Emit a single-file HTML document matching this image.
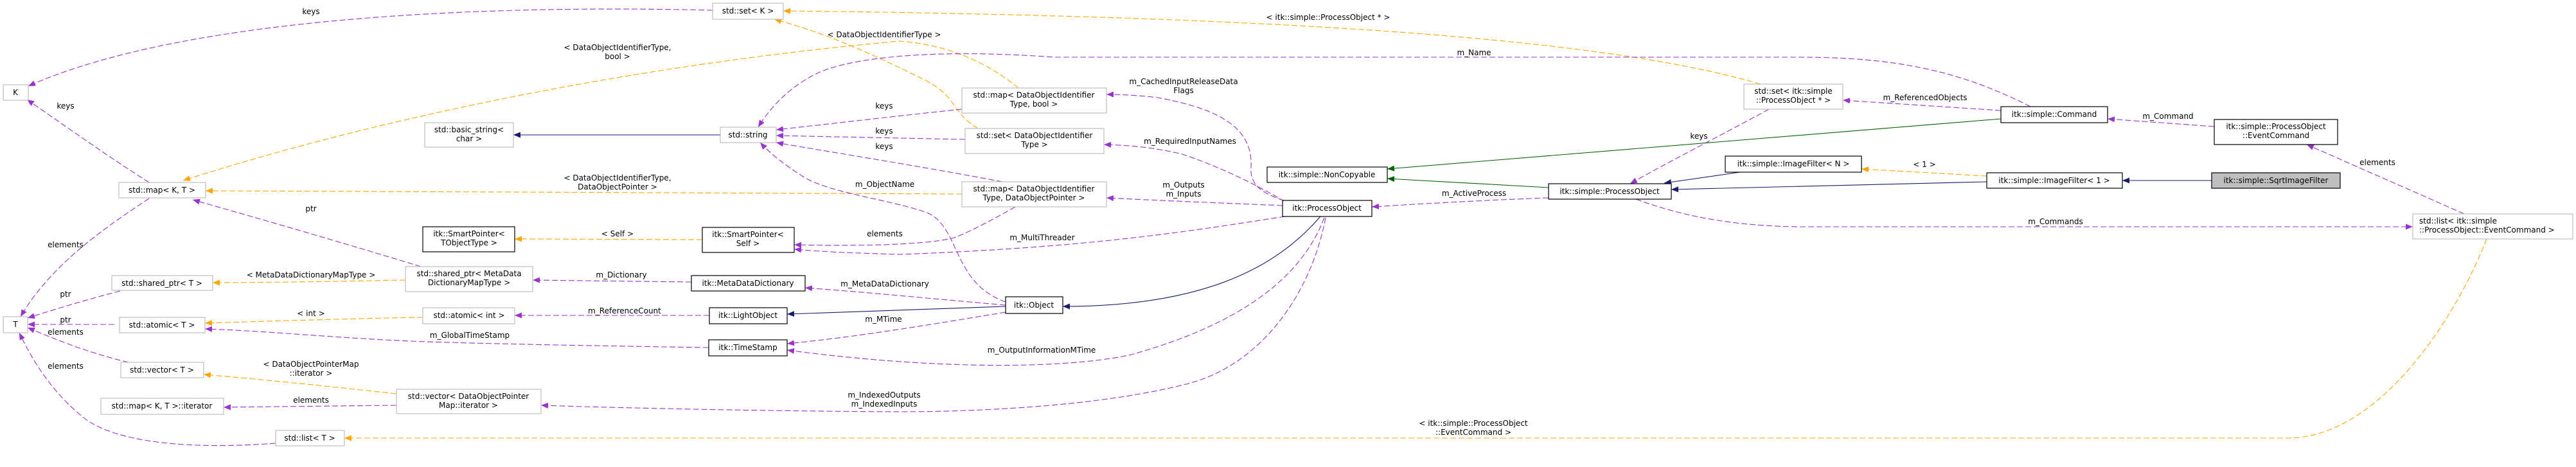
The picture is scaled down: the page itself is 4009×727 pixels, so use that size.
<!DOCTYPE html>
<html><head><meta charset="utf-8"><style>
html,body{margin:0;padding:0;background:#fff;}
svg{display:block;}
text{font-family:"DejaVu Sans","Liberation Sans",sans-serif;font-size:12px;fill:#000;}
.g{fill:#fff;stroke:#bfbfbf;stroke-width:1.2}
.b{fill:#fff;stroke:#000;stroke-width:1.2}
.p{fill:none;stroke:#9a32cd;stroke-dasharray:9,4;stroke-width:1.1}
.o{fill:none;stroke:#ffa500;stroke-dasharray:9,4;stroke-width:1.1}
.n{fill:none;stroke:#191970;stroke-width:1.1}
.gr{fill:none;stroke:#006400;stroke-width:1.1}
</style></head><body>
<svg width="4009" height="727" viewBox="0 0 4009 727" xmlns="http://www.w3.org/2000/svg">
<defs>
<marker id="mp" markerUnits="userSpaceOnUse" markerWidth="12" markerHeight="9" refX="11" refY="4.5" orient="auto"><path d="M0,0 L11,4.5 L0,9 z" fill="#9a32cd"/></marker>
<marker id="mo" markerUnits="userSpaceOnUse" markerWidth="12" markerHeight="9" refX="11" refY="4.5" orient="auto"><path d="M0,0 L11,4.5 L0,9 z" fill="#ffa500"/></marker>
<marker id="mn" markerUnits="userSpaceOnUse" markerWidth="12" markerHeight="9" refX="11" refY="4.5" orient="auto"><path d="M0,0 L11,4.5 L0,9 z" fill="#191970"/></marker>
<marker id="mg" markerUnits="userSpaceOnUse" markerWidth="12" markerHeight="9" refX="11" refY="4.5" orient="auto"><path d="M0,0 L11,4.5 L0,9 z" fill="#006400"/></marker>
</defs>

<!-- edges -->
<path class="p" marker-end="url(#mp)" d="M1109,16 C800,8 300,20 44,134"/>
<path class="p" marker-end="url(#mp)" d="M232,284 C170,245 100,195 42,155"/>
<path class="p" marker-end="url(#mp)" d="M232,309 C170,350 80,410 32,493"/>
<path class="p" marker-end="url(#mp)" d="M187,453 C140,465 90,480 43,495"/>
<path class="p" marker-end="url(#mp)" d="M178,505 L43,505"/>
<path class="p" marker-end="url(#mp)" d="M200,564 C140,550 90,530 43,510"/>
<path class="p" marker-end="url(#mp)" d="M429,690 C300,700 180,690 130,650 C80,610 50,560 30,518"/>
<path class="p" marker-end="url(#mp)" d="M655,415 C540,380 420,345 300,311"/>
<path class="o" marker-end="url(#mo)" d="M631,436 C520,438 420,440 331,440"/>
<path class="o" marker-end="url(#mo)" d="M658,494 C540,496 420,500 319,503"/>
<path class="p" marker-end="url(#mp)" d="M1103,541 C900,538 760,535 700,533 C560,530 420,515 319,512"/>
<path class="o" marker-end="url(#mo)" d="M617,613 C500,600 400,590 317,583"/>
<path class="p" marker-end="url(#mp)" d="M617,631 C520,632 430,633 348,634"/>
<path class="o" marker-end="url(#mo)" d="M3870,372 C3820,500 3700,682 3560,682 L536,682"/>
<path class="o" marker-end="url(#mo)" d="M2740,131 C2500,60 2000,25 1219,17"/>
<path class="o" marker-end="url(#mo)" d="M1522,200 C1480,175 1490,150 1440,125 C1350,80 1280,50 1205,30"/>
<path class="o" marker-end="url(#mo)" d="M1585,137 C1540,100 1480,70 1400,64 C1000,100 600,180 285,281"/>
<path class="o" marker-end="url(#mo)" d="M1497,302 C1000,300 600,298 320,297"/>
<path class="n" marker-end="url(#mn)" d="M1121,210 L799,210"/>
<path class="o" marker-end="url(#mo)" d="M1093,373 L801,372"/>
<path class="p" marker-end="url(#mp)" d="M1076,439 L829,436"/>
<path class="p" marker-end="url(#mp)" d="M1104,491 L801,491"/>
<path class="n" marker-end="url(#mn)" d="M1565,477 L1225,489"/>
<path class="p" marker-end="url(#mp)" d="M1565,475 C1450,465 1350,455 1253,448"/>
<path class="p" marker-end="url(#mp)" d="M1565,486 C1450,505 1330,525 1225,535"/>
<path class="p" marker-end="url(#mp)" d="M1565,470 C1480,440 1495,350 1440,330 C1380,310 1290,300 1250,275 C1220,256 1200,240 1183,222"/>
<path class="p" marker-end="url(#mp)" d="M1497,170 C1400,180 1300,192 1208,202"/>
<path class="p" marker-end="url(#mp)" d="M1502,217 C1400,215 1300,213 1208,211"/>
<path class="p" marker-end="url(#mp)" d="M1560,283 C1440,260 1300,238 1208,222"/>
<path class="p" marker-end="url(#mp)" d="M3160,166 C3050,110 2950,89 2800,89 L1640,89 C1450,75 1320,90 1270,115 C1230,135 1200,165 1180,198"/>
<path class="p" marker-end="url(#mp)" d="M1998,312 C1960,300 1945,285 1947,260 C1950,200 1900,170 1802,152 C1770,148 1740,147 1722,147"/>
<path class="p" marker-end="url(#mp)" d="M2000,314 C1960,290 1900,260 1840,240 C1790,228 1750,226 1718,225"/>
<path class="p" marker-end="url(#mp)" d="M1996,320 C1900,316 1800,312 1722,308"/>
<path class="p" marker-end="url(#mp)" d="M2000,337 C1850,360 1700,385 1400,396 C1330,394 1280,392 1236,388"/>
<path class="p" marker-end="url(#mp)" d="M1580,322 C1540,345 1500,365 1485,370 C1440,383 1300,383 1236,381"/>
<path class="n" marker-end="url(#mn)" d="M2055,337 C2000,400 1900,477 1654,477"/>
<path class="p" marker-end="url(#mp)" d="M2061,339 C2030,420 1950,500 1757,553 C1650,575 1450,575 1225,545"/>
<path class="p" marker-end="url(#mp)" d="M2063,339 C2040,460 1960,570 1846,598 C1700,635 1500,641 1400,641 C1200,640 1000,636 842,631"/>
<path class="p" marker-end="url(#mp)" d="M2410,308 C2300,312 2200,318 2135,322"/>
<path class="gr" marker-end="url(#mg)" d="M2410,292 L2159,278"/>
<path class="gr" marker-end="url(#mg)" d="M3114,185 L2159,263"/>
<path class="p" marker-end="url(#mp)" d="M2753,170 C2680,210 2600,250 2537,286"/>
<path class="n" marker-end="url(#mn)" d="M2708,268 L2590,285"/>
<path class="n" marker-end="url(#mn)" d="M3092,283 L2601,295"/>
<path class="o" marker-end="url(#mo)" d="M3092,274 L2897,263"/>
<path class="p" marker-end="url(#mp)" d="M3114,172 L2868,156"/>
<path class="p" marker-end="url(#mp)" d="M3446,197 L3280,185"/>
<path class="n" marker-end="url(#mn)" d="M3442,281 L3303,281"/>
<path class="p" marker-end="url(#mp)" d="M2546,310 C2600,330 2680,352 2800,353 L3755,353"/>
<path class="p" marker-end="url(#mp)" d="M3835,333 L3590,225"/>

<!-- edge labels -->
<g text-anchor="middle">
<text x="484" y="22">keys</text>
<text x="102" y="169">keys</text>
<text x="102" y="385">elements</text>
<text x="102" y="462">ptr</text>
<text x="102" y="502">ptr</text>
<text x="102" y="521">elements</text>
<text x="102" y="574">elements</text>
<text x="484" y="329">ptr</text>
<text x="484" y="432">&lt; MetaDataDictionaryMapType &gt;</text>
<text x="484" y="492">&lt; int &gt;</text>
<text x="731" y="526">m_GlobalTimeStamp</text>
<text x="484" y="571">&lt; DataObjectPointerMap</text>
<text x="484" y="585">::iterator &gt;</text>
<text x="484" y="627">elements</text>
<text x="2293" y="663">&lt; itk::simple::ProcessObject</text>
<text x="2293" y="677">::EventCommand &gt;</text>
<text x="2067" y="31">&lt; itk::simple::ProcessObject * &gt;</text>
<text x="1376" y="58">&lt; DataObjectIdentifierType &gt;</text>
<text x="961" y="78">&lt; DataObjectIdentifierType,</text>
<text x="961" y="92">bool &gt;</text>
<text x="961" y="281">&lt; DataObjectIdentifierType,</text>
<text x="961" y="295">DataObjectPointer &gt;</text>
<text x="961" y="368">&lt; Self &gt;</text>
<text x="967" y="432">m_Dictionary</text>
<text x="972" y="488">m_ReferenceCount</text>
<text x="1377" y="446">m_MetaDataDictionary</text>
<text x="1375" y="501">m_MTime</text>
<text x="1377" y="291">m_ObjectName</text>
<text x="1376" y="169">keys</text>
<text x="1376" y="208">keys</text>
<text x="1376" y="232">keys</text>
<text x="2294" y="86">m_Name</text>
<text x="1842" y="131">m_CachedInputReleaseData</text>
<text x="1842" y="145">Flags</text>
<text x="1852" y="224">m_RequiredInputNames</text>
<text x="1842" y="292">m_Outputs</text>
<text x="1842" y="306">m_Inputs</text>
<text x="1622" y="374">m_MultiThreader</text>
<text x="1377" y="368">elements</text>
<text x="1621" y="549">m_OutputInformationMTime</text>
<text x="1376" y="619">m_IndexedOutputs</text>
<text x="1376" y="633">m_IndexedInputs</text>
<text x="2294" y="305">m_ActiveProcess</text>
<text x="2644" y="216">keys</text>
<text x="2995" y="260">&lt; 1 &gt;</text>
<text x="2996" y="156">m_ReferencedObjects</text>
<text x="3374" y="185">m_Command</text>
<text x="3199" y="349">m_Commands</text>
<text x="3700" y="257">elements</text>
</g>

<!-- nodes -->
<g text-anchor="middle">
<rect class="g" x="5" y="132" width="39" height="24"/><text x="24" y="148">K</text>
<rect class="g" x="185" y="284" width="135" height="24"/><text x="252" y="300">std::map&lt; K, T &gt;</text>
<rect class="g" x="174" y="429" width="157" height="23"/><text x="252" y="445">std::shared_ptr&lt; T &gt;</text>
<rect class="g" x="5" y="493" width="38" height="25"/><text x="24" y="509">T</text>
<rect class="g" x="186" y="494" width="133" height="24"/><text x="252" y="510">std::atomic&lt; T &gt;</text>
<rect class="g" x="188" y="564" width="129" height="24"/><text x="252" y="580">std::vector&lt; T &gt;</text>
<rect class="g" x="157" y="620" width="191" height="25"/><text x="252" y="636">std::map&lt; K, T &gt;::iterator</text>
<rect class="g" x="429" y="670" width="107" height="24"/><text x="482" y="686">std::list&lt; T &gt;</text>
<rect class="g" x="631" y="415" width="198" height="39"/><text x="730" y="430">std::shared_ptr&lt; MetaData</text><text x="730" y="444">DictionaryMapType &gt;</text>
<rect class="g" x="617" y="606" width="225" height="38"/><text x="729" y="621">std::vector&lt; DataObjectPointer</text><text x="729" y="635">Map::iterator &gt;</text>
<rect class="g" x="661" y="191" width="138" height="38"/><text x="730" y="206">std::basic_string&lt;</text><text x="730" y="220">char &gt;</text>
<rect class="b" x="658" y="353" width="143" height="39"/><text x="730" y="368">itk::SmartPointer&lt;</text><text x="730" y="382">TObjectType &gt;</text>
<rect class="g" x="658" y="479" width="143" height="25"/><text x="730" y="495">std::atomic&lt; int &gt;</text>
<rect class="g" x="1109" y="5" width="110" height="25"/><text x="1164" y="21">std::set&lt; K &gt;</text>
<rect class="g" x="1121" y="198" width="87" height="24"/><text x="1164" y="214">std::string</text>
<rect class="b" x="1093" y="354" width="143" height="39"/><text x="1164" y="369">itk::SmartPointer&lt;</text><text x="1164" y="383">Self &gt;</text>
<rect class="b" x="1076" y="429" width="177" height="24"/><text x="1164" y="445">itk::MetaDataDictionary</text>
<rect class="b" x="1104" y="479" width="121" height="25"/><text x="1164" y="495">itk::LightObject</text>
<rect class="b" x="1103" y="529" width="122" height="25"/><text x="1164" y="545">itk::TimeStamp</text>
<rect class="g" x="1497" y="137" width="225" height="39"/><text x="1609" y="152">std::map&lt; DataObjectIdentifier</text><text x="1609" y="166">Type, bool &gt;</text>
<rect class="g" x="1502" y="200" width="216" height="39"/><text x="1610" y="215">std::set&lt; DataObjectIdentifier</text><text x="1610" y="229">Type &gt;</text>
<rect class="g" x="1497" y="283" width="225" height="39"/><text x="1609" y="298">std::map&lt; DataObjectIdentifier</text><text x="1609" y="312">Type, DataObjectPointer &gt;</text>
<rect class="b" x="1565" y="462" width="89" height="26"/><text x="1609" y="479">itk::Object</text>
<rect class="b" x="1972" y="260" width="187" height="24"/><text x="2065" y="276">itk::simple::NonCopyable</text>
<rect class="b" x="1996" y="312" width="139" height="25"/><text x="2065" y="328">itk::ProcessObject</text>
<rect class="b" x="2410" y="286" width="191" height="24"/><text x="2505" y="302">itk::simple::ProcessObject</text>
<rect class="g" x="2714" y="131" width="154" height="39"/><text x="2791" y="146">std::set&lt; itk::simple</text><text x="2791" y="160">::ProcessObject * &gt;</text>
<rect class="b" x="2685" y="243" width="212" height="25"/><text x="2791" y="259">itk::simple::ImageFilter&lt; N &gt;</text>
<rect class="b" x="3114" y="166" width="166" height="25"/><text x="3197" y="182">itk::simple::Command</text>
<rect class="b" x="3092" y="269" width="211" height="24"/><text x="3197" y="285">itk::simple::ImageFilter&lt; 1 &gt;</text>
<rect class="b" x="3446" y="186" width="192" height="39"/><text x="3542" y="201">itk::simple::ProcessObject</text><text x="3542" y="215">::EventCommand</text>
<rect x="3442" y="269" width="200" height="24" fill="#bfbfbf" stroke="#000" stroke-width="1.2"/><text x="3542" y="285">itk::simple::SqrtImageFilter</text>
</g>
<rect class="g" x="3755" y="333" width="249" height="39"/><text x="3765" y="348">std::list&lt; itk::simple</text><text x="3765" y="362">::ProcessObject::EventCommand &gt;</text>
</svg>
</body></html>
